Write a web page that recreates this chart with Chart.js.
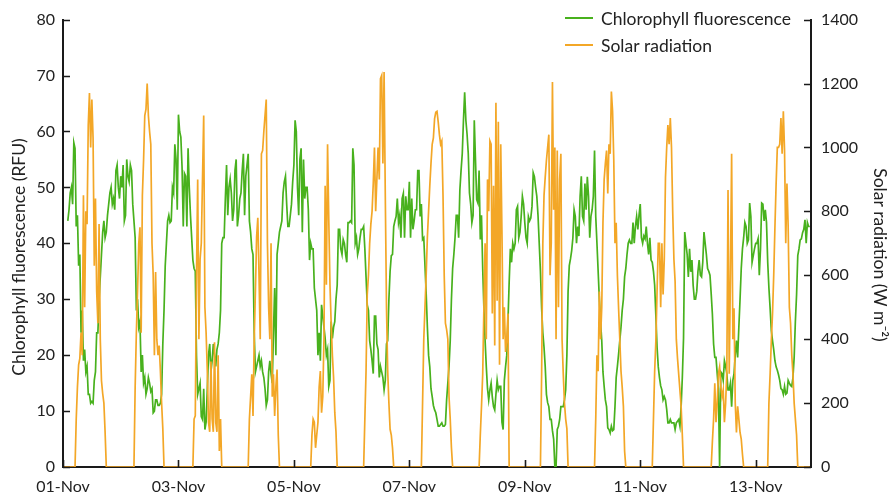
<!DOCTYPE html>
<html>
<head>
<meta charset="utf-8">
<script src="https://cdn.jsdelivr.net/npm/chart.js@4.4.0/dist/chart.umd.min.js"></script>
<style>
  html, body { margin: 0; padding: 0; background: #fff; }
  #wrap { width: 894px; height: 498px; }
</style>
</head>
<body>
<div id="wrap"><canvas id="myChart" width="894" height="498"></canvas></div>
<script>
// readings every half hour, starting 01-Nov 00:00 (one row = one day)
const stepHours = 0.5;
const tickLabels = ['01-Nov', '03-Nov', '05-Nov', '07-Nov', '09-Nov', '11-Nov', '13-Nov'];

// Chlorophyll fluorescence (RFU), left axis
const chlorophyll = [
  null, null, null, null, 44, 46, 49, 50, 47, 58, 57, 43, 45, 36, 38, 24, 28, 19, 21, 17, 18, 13, 13, 11.4,
  11.7, 11.4, 15.5, 17, 24, 24, 30, 34, 38, 42, 44, 41, 42, 45, 47, 49, 50, 47, 48, 46, 53, 54, 50, 48,
  52, 50, 54, 44, 45, 55, 52, 51, 54, 53, 47, 44, 41, 28, 30, 25, 26, 17, 20, 15, 16, 13, 14, 16,
  15, 13.5, 14, 9.7, 10, 12, 12, 11, 11, 11.4, 13, 22, 28, 36, 40, 44, 45, 43.7, 44, 50, 49, 57.7, 55, 46,
  63, 60, 59, 53.6, 43, 52.5, 52, 43, 57, 50, 45, 41, 37, 35.5, 35, 20, 13, 14, 15, 9, 8.5, 14, 6.7, 8,
  14, 20, 22, 17, 19, 22, 20, 18, 21, 22, 24, 28, 40, 41, 41, 48, 54, 45, 50, 51.5, 49, 44, 46, 53,
  55, 43, 45, 48, 49, 53, 56, 45, 52, 54, 56, 44, 42, 39, 38, 24, 17, 18, 19, 20, 18, 19, 17, 16,
  14, 11, 12, 17, 19, 16.7, 15, 24, 32, 20, 38, 40, 42, 43, 44, 49, 51, 52, 47, 43, 43, 45, 47, 51,
  54, 62, 60, 50, 45, 55, 57, 42, 55, 48, 50, 50, 46, 37, 40, 39, 39, 32, 30, 28, 20, 24, 19, 29,
  27, 25, 23, 20, 21, 14.4, 15.5, 26, 23, 25, 26, 30, 32.5, 42.5, 42.5, 39, 38, 40.7, 40, 38, 36.6, 43.7, 43.7, 44,
  43.7, 57, 54, 40, 41, 38, 39, 41, 42.5, 42.5, 43, 39, 34, 29, 28, 22.6, 21, 19, 16.7, 27, 27, 22, 21, 16,
  18, 17, 16, 13.8, 15.5, 22, 22.6, 30, 35, 37.8, 38, 43, 44, 44.8, 48, 43.7, 45, 41, 48, 48.9, 41, 48.4, 46, 46,
  51, 41, 48, 42.5, 44, 46, 46, 53, 53, 44.8, 47, 40.7, 41, 36, 31, 25, 20, 17.9, 14, 12.6, 11, 10.2, 9.7, 8.5,
  7.3, 7.3, 7.6, 7.9, 7.3, 7.3, 7.6, 12, 15, 18, 22.6, 30, 35.5, 38, 41, 45, 45, 41, 49.5, 53, 56, 62, 67, 62,
  59.5, 56, 49, 47, 43.7, 45, 62, 55, 47.8, 47.2, 53, 40.7, 45, 35.5, 28.4, 22.6, 17.9, 14, 12, 13.8, 15, 12.5, 10.8, 10.2,
  13, 15.5, 13.8, 14.4, 14.4, 8, 6.7, 15.5, 17.9, 20, 26, 33, 39, 36.6, 40, 39, 40, 46, 46.6, 41, 42, 44.8, 48.4, 47,
  43.7, 41, 40, 44.8, 44, 44.5, 46.6, 52.6, 51.9, 50, 48.4, 45, 40, 35, 28.4, 24, 21.4, 17.9, 13, 11.5, 10.8, 8.5, 8.5, 6.5,
  5, 0, 0, 6.7, 7.3, 8.5, 10.8, 10.8, 10.8, 12, 13.8, 20, 31.4, 36, 37.2, 38.7, 41, 46, 44.8, 40, 43, 41.3, 48.4, 52,
  44.8, 44, 50.7, 46, 51.9, 48.4, 41, 44.8, 46, 48.4, 56.6, 44.8, 40, 35, 30, 26, 22.6, 17, 14.4, 12, 10.8, 7, 6.7, 6.1,
  7.3, 6.5, 6.7, 10.8, 16, 18, 20.2, 22.6, 25, 28, 30, 34, 35.5, 38, 40, 40.6, 40, 40, 43.7, 40, 43, 44.8, 42.5, 45,
  47, 41, 40, 41.3, 40.8, 43, 40, 38, 41, 37, 36.6, 35, 32.5, 27, 21.4, 17.9, 16, 14.5, 13.8, 12, 12.6, 12, 10.3, 7.9,
  7.9, 8.5, 7.9, 7.9, 7.9, 6.7, 7.9, 8.2, 8.5, 7.3, 10.8, 16, 23, 42, 40, 38, 34, 39, 34.9, 37, 32.5, 30, 30, 31.4,
  35, 37, 34.3, 34, 36.6, 42, 40, 38, 35.5, 35, 34.3, 31, 27.3, 22, 19.6, 19.6, 16.7, 14, 0, 17, 16.7, 15.5, 19, 18,
  16.7, 13.8, 13.8, 15, 10.8, 15.5, 16.7, 20, 22.6, 19.6, 25, 30, 35.5, 39, 41, 43.7, 43, 40, 40.6, 47.2, 44.8, 36.6, 37.8, 39,
  40, 40, 40.8, 34.3, 39, 47.2, 47, 44, 46, 43.7, 36.6, 32, 28.4, 24.4, 22.6, 21, 19, 17.9, 17.3, 16.5, 15.5, 14, 13.8, 13,
  14.4, 13, 13.2, 15.5, 15, 14.6, 14.4, 16, 19.6, 26, 30.8, 37.8, 39, 40.6, 40.8, 41.9, 42.5, 44.2, 40, 43.7, 43, 43
];

// Solar radiation (W m-2), right axis
const solar = [
  0, 0, 0, 0, 0, 0, 0, 0, 0, 0, 0, 150, 250, 320, 340, 420, 350, 850, 500, 800, 760, 1070, 1170, 1000,
  1150, 1030, 630, 840, 550, 450, 760, 400, 270, 230, 200, 110, 0, 0, 0, 0, 0, 0, 0, 0, 0, 0, 0, 0,
  0, 0, 0, 0, 0, 0, 0, 0, 0, 0, 0, 0, 250, 420, 550, 700, 750, 420, 850, 960, 1100, 1120, 1200, 1100,
  1050, 1010, 700, 600, 350, 610, 400, 350, 380, 300, 200, 120, 0, 0, 0, 0, 0, 0, 0, 0, 0, 0, 0, 0,
  0, 0, 0, 0, 0, 0, 0, 0, 0, 0, 0, 0, 0, 150, 160, 600, 900, 400, 650, 700, 900, 1100, 500, 420,
  300, 140, 110, 330, 150, 110, 390, 140, 110, 350, 50, 150, 0, 0, 0, 0, 0, 0, 0, 0, 0, 0, 0, 0,
  0, 0, 0, 0, 0, 0, 0, 0, 0, 0, 0, 150, 220, 290, 160, 400, 550, 720, 780, 600, 400, 980, 990, 1050,
  1100, 1150, 700, 500, 400, 700, 220, 290, 160, 250, 305, 100, 0, 0, 0, 0, 0, 0, 0, 0, 0, 0, 0, 0,
  0, 0, 0, 0, 0, 0, 0, 0, 0, 0, 0, 0, 0, 0, 0, 100, 150, 140, 60, 100, 140, 250, 300, 170,
  220, 400, 880, 570, 1010, 775, 570, 450, 350, 280, 170, 110, 0, 0, 0, 0, 0, 0, 0, 0, 0, 0, 0, 0,
  0, 0, 0, 0, 0, 0, 0, 0, 0, 0, 0, 150, 300, 540, 600, 700, 760, 800, 887, 1000, 800, 900, 1000, 900,
  1215, 1225, 950, 1236, 850, 500, 300, 200, 118, 100, 60, 0, 0, 0, 0, 0, 0, 0, 0, 0, 0, 0, 0, 0,
  0, 0, 0, 0, 0, 0, 0, 0, 0, 0, 0, 200, 400, 500, 600, 720, 800, 880, 950, 1010, 1030, 1090, 1110, 1113,
  1080, 1040, 1010, 1020, 850, 600, 450, 430, 400, 220, 150, 60, 0, 0, 0, 0, 0, 0, 0, 0, 0, 0, 0, 0,
  0, 0, 0, 0, 0, 0, 0, 0, 0, 0, 0, 100, 190, 290, 500, 700, 400, 900, 800, 1020, 1010, 480, 880, 380,
  1140, 520, 1080, 320, 1010, 740, 400, 500, 360, 400, 480, 0, 0, 0, 0, 0, 0, 0, 0, 0, 0, 0, 0, 0,
  0, 0, 0, 0, 0, 0, 0, 0, 0, 0, 0, 0, 0, 0, 290, 700, 850, 908, 960, 1000, 1040, 600, 700, 1205,
  805, 1000, 400, 990, 500, 900, 980, 400, 290, 200, 150, 120, 0, 0, 0, 0, 0, 0, 0, 0, 0, 0, 0, 0,
  0, 0, 0, 0, 0, 0, 0, 0, 0, 0, 0, 150, 350, 300, 549, 400, 500, 764, 900, 950, 990, 856, 1010, 980,
  1175, 1113, 960, 700, 764, 600, 497, 400, 300, 250, 190, 50, 0, 0, 0, 0, 0, 0, 0, 0, 0, 0, 0, 0,
  0, 0, 0, 0, 0, 0, 0, 0, 0, 0, 0, 150, 300, 395, 550, 700, 700, 500, 700, 540, 650, 907, 1000, 1070,
  1010, 1092, 1000, 800, 650, 580, 400, 340, 290, 240, 190, 100, 0, 0, 0, 0, 0, 0, 0, 0, 0, 0, 0, 0,
  0, 0, 0, 0, 0, 0, 0, 0, 0, 0, 0, 0, 80, 150, 262, 140, 200, 292, 313, 250, 220, 241, 140, 200,
  300, 867, 292, 600, 980, 400, 497, 200, 108, 190, 150, 108, 87, 40, 0, 0, 0, 0, 0, 0, 0, 0, 0, 0,
  0, 0, 0, 0, 0, 0, 0, 0, 0, 0, 0, 200, 290, 395, 480, 600, 750, 887, 1000, 1000, 1010, 1092, 980, 1113,
  990, 700, 887, 754, 500, 450, 350, 290, 200, 150, 100, 0, 0, 0, 0, 0, 0, 0, 0, 0, 0, 0
];

const greenColor = '#48b11d';
const orangeColor = '#f3a727';
const axisColor = '#1a1a1a';
const textColor = '#222';
const fontFamily = 'Lato, "Open Sans", sans-serif';
const leftTitle = 'Chlorophyll fluorescence (RFU)';
const rightTitle = 'Solar radiation (W m\u207B\u00B2)';

// ticks pointing into the plot
const inwardTicks = {
  id: 'inwardTicks',
  afterDraw(chart) {
    const {ctx, chartArea, scales} = chart;
    ctx.save();
    ctx.strokeStyle = axisColor;
    ctx.lineWidth = 1.6;
    ctx.beginPath();
    scales.x.ticks.forEach((t, i) => {
      const px = Math.round(scales.x.getPixelForTick(i)) + 0.5;
      ctx.moveTo(px, chartArea.bottom);
      ctx.lineTo(px, chartArea.bottom - 7);
    });
    scales.y.ticks.forEach((t, i) => {
      const py = Math.round(scales.y.getPixelForTick(i)) + 0.5;
      ctx.moveTo(chartArea.left, py);
      ctx.lineTo(chartArea.left + 7, py);
    });
    scales.y1.ticks.forEach((t, i) => {
      const py = Math.round(scales.y1.getPixelForTick(i)) + 0.5;
      ctx.moveTo(chartArea.right, py);
      ctx.lineTo(chartArea.right - 7, py);
    });
    ctx.stroke();
    ctx.restore();
  }
};

// legend inside the top right corner + the two axis titles
const extraText = {
  id: 'extraText',
  afterDraw(chart) {
    const ctx = chart.ctx;
    const items = [
      {label: chart.data.datasets[1].label, color: greenColor, y: 18},
      {label: chart.data.datasets[0].label, color: orangeColor, y: 45}
    ];
    ctx.save();
    ctx.font = '17.5px ' + fontFamily;
    ctx.textBaseline = 'middle';
    items.forEach(it => {
      ctx.strokeStyle = it.color;
      ctx.lineWidth = 2;
      ctx.beginPath();
      ctx.moveTo(565, it.y);
      ctx.lineTo(593, it.y);
      ctx.stroke();
      ctx.fillStyle = textColor;
      ctx.fillText(it.label, 601, it.y + 1);
    });
    ctx.textAlign = 'center';
    ctx.save();
    ctx.translate(19, 257);
    ctx.rotate(-Math.PI / 2);
    ctx.fillText(leftTitle, 0, 0);
    ctx.restore();
    ctx.save();
    ctx.translate(880, 255);
    ctx.rotate(Math.PI / 2);
    ctx.fillText(rightTitle, 0, 0);
    ctx.restore();
    ctx.restore();
  }
};

const toPoints = arr => arr.map((v, i) => ({x: i * stepHours, y: v}));

const ctx = document.getElementById('myChart').getContext('2d');
const myChart = new Chart(ctx, {
  type: 'line',
  data: {
    datasets: [
      {
        label: 'Solar radiation',
        data: toPoints(solar),
        borderColor: orangeColor,
        borderWidth: 1.7,
        pointRadius: 0,
        tension: 0,
        yAxisID: 'y1',
        order: 0
      },
      {
        label: 'Chlorophyll fluorescence',
        data: toPoints(chlorophyll),
        borderColor: greenColor,
        borderWidth: 1.7,
        pointRadius: 0,
        tension: 0,
        yAxisID: 'y',
        order: 1
      }
    ]
  },
  options: {
    responsive: false,
    animation: false,
    events: [],
    layout: { padding: { top: 12, left: 0, right: 0, bottom: 0 } },
    plugins: {
      legend: { display: false },
      tooltip: { enabled: false }
    },
    scales: {
      x: {
        type: 'linear',
        min: 0,
        max: 311,
        grid: { display: false, drawTicks: false },
        border: { display: true, color: axisColor, width: 2 },
        afterBuildTicks: s => { s.ticks = tickLabels.map((l, i) => ({value: i * 48})); },
        ticks: {
          autoSkip: false,
          maxRotation: 0,
          padding: 10,
          color: textColor,
          font: { family: fontFamily, size: 16 },
          callback: (v, i) => tickLabels[i]
        },
        afterFit: s => { s.height = 31; }
      },
      y: {
        position: 'left',
        min: 0,
        max: 80,
        grid: { display: false, drawTicks: false },
        border: { display: true, color: axisColor, width: 2 },
        ticks: {
          stepSize: 10,
          padding: 8,
          color: textColor,
          font: { family: fontFamily, size: 16 }
        },
        afterFit: s => { s.width = 63; }
      },
      y1: {
        position: 'right',
        min: 0,
        max: 1400,
        grid: { display: false, drawTicks: false },
        border: { display: true, color: axisColor, width: 2 },
        ticks: {
          stepSize: 200,
          padding: 10,
          color: textColor,
          font: { family: fontFamily, size: 16 },
          callback: v => String(v)
        },
        afterFit: s => { s.width = 83; }
      }
    }
  },
  plugins: [inwardTicks, extraText]
});
</script>
</body>
</html>
